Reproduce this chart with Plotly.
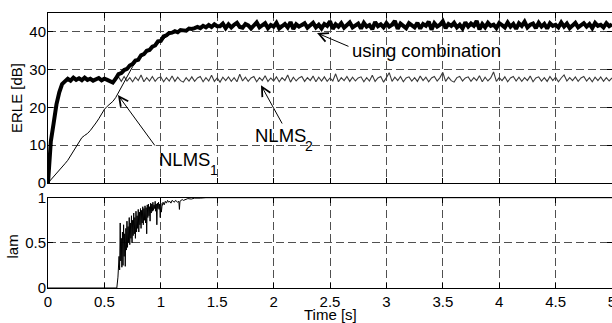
import plotly.graph_objects as go

# ---------------- data ----------------
DT = 0.025  # sampling step of the ERLE curves [s]

erle_comb = [
    0, 11, 15.8, 20.8, 24.0, 26.2, 26.9, 27.6, 27.1, 27.9,
    27.3, 27.7, 27.2, 27.9, 27.3, 27.6, 27.1, 27.5, 27.8, 27.2,
    27.6, 27.3, 27.0, 26.6, 27.6, 28.8, 29.1, 29.9, 30.2, 31.1,
    31.5, 32.4, 32.6, 33.8, 34.1, 35.0, 35.2, 36.1, 36.4, 37.5,
    37.6, 38.8, 39.1, 39.7, 39.8, 40.2, 39.9, 40.5, 40.4, 40.3,
    40.9, 40.8, 41.0, 41.3, 41.0, 41.6, 41.2, 41.8, 41.3, 42.0,
    41.5,
    41.5, 42.2, 41.0, 42.0, 41.2, 41.9, 42.4, 41.3, 41.1, 42.1,
    41.7, 40.9, 41.8, 42.5, 41.2, 41.6, 42.3, 41.0, 41.8, 41.4,
    42.4, 40.9, 41.6, 42.1, 41.2, 42.6, 40.8, 42.0, 41.4, 41.8,
    42.3, 41.1, 41.6, 42.4, 41.2, 41.9, 40.9, 42.1, 41.6, 42.8,
    40.8, 42.0, 41.4, 42.3, 41.1, 41.8, 42.5, 41.2, 41.6, 42.2,
    40.9, 42.4, 41.4, 41.8, 40.7, 42.6, 41.5, 42.0, 41.2, 42.3,
    41.4, 41.9, 42.9, 40.8, 42.2, 41.6, 41.0, 42.3, 41.8, 41.2,
    42.4, 40.9, 42.1, 41.6, 42.7, 40.6, 42.3, 41.4, 41.9, 42.8,
    41.0, 42.1, 41.6, 42.4, 41.2, 41.9, 40.9, 42.5, 41.4, 42.2,
    41.6, 42.9, 40.7, 42.1, 41.2, 42.4, 41.6, 41.9, 41.0, 42.3,
    41.8, 41.2, 42.5, 41.4, 42.1, 40.8, 42.3, 41.6, 42.7, 41.2,
    41.9, 42.2, 41.0, 42.4, 41.4, 42.1, 40.9, 42.3, 41.6, 41.9,
    41.2, 42.5, 41.4, 42.2, 41.0, 41.9, 42.4, 41.2, 41.7, 42.3,
    41.4, 42.1, 41.0, 42.4, 41.6, 41.9, 41.2, 42.3, 41.5, 42.0,
]

erle_nlms1 = [
    0, 0.8, 1.7, 2.5, 3.4, 4.2, 5.1, 6.0, 7.2, 8.3,
    9.5, 10.8, 12.0, 12.6, 13.1, 13.9, 14.8, 15.9, 17.0, 18.3,
    19.5, 20.3, 20.9, 21.6, 22.6, 24.0, 25.6, 27.0, 28.3, 29.5,
    30.8, 31.9, 32.5, 33.3, 34.0, 34.6, 35.2, 35.7, 36.3, 37.0,
    37.6, 38.3, 38.9, 39.3, 39.6, 39.8, 39.9, 40.2, 40.4, 40.4,
    40.7, 40.9, 41.0, 41.2, 41.1, 41.4, 41.3, 41.6, 41.4, 41.7,
    41.6,
    41.6, 41.7, 41.5, 41.8, 41.6, 41.7, 41.8, 41.5, 41.6, 41.8,
    41.7, 41.5, 41.6, 41.8, 41.6, 41.7, 41.5, 41.7, 41.8, 41.6,
    41.7, 41.6, 41.8, 41.5, 41.7, 41.6, 41.7, 41.8, 41.6, 41.5,
    41.7, 41.8, 41.6, 41.7, 41.5, 41.6, 41.8, 41.7, 41.6, 41.7,
    41.6, 41.7, 41.5, 41.8, 41.6, 41.7, 41.8, 41.6, 41.5, 41.7,
    41.7, 41.6, 41.8, 41.6, 41.5, 41.7, 41.6, 41.8, 41.7, 41.6,
    41.5, 41.7, 41.6, 41.8, 41.7, 41.6, 41.7, 41.5, 41.8, 41.6,
    41.7, 41.6, 41.7, 41.8, 41.5, 41.6, 41.7, 41.6, 41.8, 41.7,
    41.6, 41.8, 41.7, 41.5, 41.7, 41.6, 41.8, 41.6, 41.7, 41.6,
    41.7, 41.5, 41.6, 41.7, 41.8, 41.6, 41.7, 41.6, 41.5, 41.7,
    41.8, 41.6, 41.7, 41.6, 41.7, 41.5, 41.8, 41.7, 41.6, 41.7,
    41.6, 41.7, 41.8, 41.6, 41.5, 41.7, 41.6, 41.7, 41.8, 41.6,
    41.7, 41.6, 41.5, 41.7, 41.8, 41.6, 41.7, 41.6, 41.7, 41.8,
    41.6, 41.7, 41.5, 41.6, 41.7, 41.8, 41.6, 41.7, 41.6, 41.7,
]

erle_nlms2 = [
    0, 11, 15.8, 20.8, 24.0, 26.2, 26.9, 27.4, 27.2, 27.7,
    27.3, 27.6, 27.2, 27.8, 27.3, 27.5, 27.2, 27.4, 27.7, 27.3,
    27.5, 27.3, 27.1, 26.8, 27.4, 28.1, 26.9, 28.2, 27.0, 27.9,
    26.8, 28.0, 27.1, 28.6, 26.8, 27.9, 27.0, 28.2, 26.9, 27.8,
    28.1, 26.8, 27.9, 27.0, 28.3, 26.9, 28.0, 27.1, 26.7, 27.9,
    27.0, 28.1, 26.9, 27.8, 28.2, 26.8, 27.9, 27.0, 28.5, 26.9,
    27.8, 26.7, 28.0, 27.1, 28.1, 26.9, 27.9, 26.8, 28.8, 27.0,
    28.0, 26.9, 27.8, 28.2, 26.8, 27.9, 27.1, 28.4, 26.9, 27.8,
    27.0, 28.1, 26.8, 27.9, 27.1, 28.6, 26.7, 28.0, 27.0, 27.8,
    28.2, 26.9, 27.9, 27.1, 28.3, 26.8, 28.0, 27.0, 28.1, 26.9,
    27.8, 27.0, 28.9, 26.8, 27.9, 27.1, 28.2, 26.9, 28.0, 27.0,
    27.8, 28.1, 26.8, 27.9, 27.0, 28.5, 26.9, 27.8, 28.2, 26.7,
    27.9, 29.2, 26.9, 28.0, 27.1, 28.2, 26.8, 27.8, 28.1, 27.0,
    27.9, 26.9, 28.3, 27.1, 28.0, 26.8, 27.8, 28.2, 27.0, 27.9,
    29.3, 26.9, 28.0, 27.1, 26.7, 27.9, 28.2, 27.0, 27.8, 28.1,
    26.9, 27.9, 27.1, 28.4, 26.8, 28.0, 27.0, 27.8, 29.4, 26.9,
    27.9, 27.1, 28.1, 26.8, 27.8, 28.2, 27.0, 28.0, 26.9, 27.9,
    27.1, 28.3, 26.8, 27.8, 28.1, 27.0, 27.9, 26.9, 28.2, 27.1,
    28.0, 26.8, 27.8, 28.6, 27.0, 27.9, 27.1, 28.1, 26.9, 27.8,
    28.2, 27.0, 27.9, 26.8, 28.0, 27.1, 28.1, 26.9, 27.9, 27.0,
    27.8,
]

t_erle = [i * DT for i in range(len(erle_comb))]

lam_t = [
    0, 0.61, 0.62, 0.63, 0.635, 0.64, 0.645, 0.65, 0.655, 0.66,
    0.665, 0.67, 0.675, 0.68, 0.685, 0.69, 0.695, 0.70, 0.705, 0.71,
    0.715, 0.72, 0.725, 0.73, 0.735, 0.74, 0.745, 0.75, 0.755, 0.76,
    0.765, 0.77, 0.775, 0.78, 0.785, 0.79, 0.795, 0.80, 0.805, 0.81,
    0.815, 0.82, 0.825, 0.83, 0.835, 0.84, 0.845, 0.85, 0.855, 0.86,
    0.865, 0.87, 0.875, 0.88, 0.885, 0.89, 0.895, 0.90, 0.905, 0.91,
    0.915, 0.92, 0.925, 0.93, 0.935, 0.94, 0.945, 0.95, 0.955, 0.96,
    0.965, 0.97, 0.975, 0.98, 0.985, 0.99, 0.995, 1.0, 1.005, 1.01,
    1.02, 1.03, 1.04, 1.05, 1.06, 1.07, 1.08, 1.09, 1.10, 1.11,
    1.12, 1.13, 1.14, 1.15, 1.16, 1.165, 1.17, 1.18, 1.19, 1.2,
    1.22, 1.24, 1.27, 1.3, 1.35, 1.4, 5.0,
]
lam_v = [
    0, 0, 0.12, 0.35, 0.2, 0.72, 0.3, 0.55, 0.23, 0.62,
    0.25, 0.7, 0.35, 0.6, 0.24, 0.66, 0.42, 0.74, 0.45, 0.68,
    0.5, 0.78, 0.48, 0.72, 0.55, 0.8, 0.5, 0.75, 0.58, 0.83,
    0.6, 0.78, 0.55, 0.85, 0.62, 0.8, 0.66, 0.87, 0.62, 0.84,
    0.7, 0.88, 0.66, 0.86, 0.72, 0.9, 0.7, 0.88, 0.75, 0.91,
    0.72, 0.89, 0.6, 0.92, 0.78, 0.93, 0.8, 0.9, 0.74, 0.94,
    0.83, 0.93, 0.85, 0.95, 0.86, 0.92, 0.88, 0.96, 0.85, 0.93,
    0.7, 0.94, 0.88, 0.95, 0.87, 0.93, 0.78, 0.94, 0.84, 0.9,
    0.95, 0.92, 0.96, 0.94, 0.97, 0.95, 0.96, 0.94, 0.97, 0.96,
    0.95, 0.97, 0.96, 0.95, 0.96, 0.87, 0.96, 0.97, 0.98, 0.97,
    0.98, 0.99, 0.985, 0.995, 0.995, 1.0, 1.0,
]

x_ticks = [0, 0.5, 1, 1.5, 2, 2.5, 3, 3.5, 4, 4.5, 5]
erle_ticks = [0, 10, 20, 30, 40]
lam_ticks = [0, 0.5, 1]

# ---------------- figure ----------------
FONT = "Liberation Sans, Arial, Helvetica, sans-serif"
fig = go.Figure()

fig.add_trace(go.Scatter(x=t_erle, y=erle_nlms2, mode="lines", name="NLMS2",
                         line=dict(color="#3a3a3a", width=1.1), xaxis="x", yaxis="y"))
fig.add_trace(go.Scatter(x=t_erle, y=erle_nlms1, mode="lines", name="NLMS1",
                         line=dict(color="black", width=1), xaxis="x", yaxis="y"))
fig.add_trace(go.Scatter(x=t_erle, y=erle_comb, mode="lines", name="combination",
                         line=dict(color="black", width=4), xaxis="x", yaxis="y"))
fig.add_trace(go.Scatter(x=lam_t, y=lam_v, mode="lines", name="lam",
                         line=dict(color="black", width=1), xaxis="x2", yaxis="y2"))

axis_common = dict(
    showline=True, linecolor="black", linewidth=1,
    ticks="inside", ticklen=5, tickcolor="black", tickwidth=1,
    mirror="ticks", showgrid=True, gridcolor="#505050", gridwidth=1,
    griddash="8px,4px", zeroline=False, automargin=False,
    ticklabeloverflow="allow",
    tickfont=dict(family=FONT, size=15, color="black"),
)

fig.update_layout(
    width=612, height=323,
    margin=dict(l=48, r=0, t=13, b=35),
    paper_bgcolor="white", plot_bgcolor="white",
    showlegend=False,
    xaxis=dict(domain=[0, 1], anchor="y", range=[0, 5], tickvals=x_ticks,
               showticklabels=False, **axis_common),
    yaxis=dict(domain=[0.3818, 1], anchor="x", range=[0, 45], tickvals=erle_ticks,
               ticklabelstandoff=-2, **axis_common),
    xaxis2=dict(domain=[0, 1], anchor="y2", range=[0, 5], tickvals=x_ticks,
                **axis_common),
    yaxis2=dict(domain=[0, 0.3284], anchor="x2", range=[0, 1], tickvals=lam_ticks,
                ticklabelstandoff=-2, **axis_common),
)

txt = dict(family=FONT, size=15, color="black")
big = dict(family=FONT, size=18.5, color="black")
sub = dict(family=FONT, size=14, color="black")

annotations = [
    # axis titles
    dict(text="ERLE [dB]", xref="paper", yref="paper", x=-0.0567, y=0.6909,
         textangle=-90, showarrow=False, font=txt, xanchor="center", yanchor="middle"),
    dict(text="lam", xref="paper", yref="paper", x=-0.0629, y=0.149,
         textangle=-90, showarrow=False, font=txt, xanchor="center", yanchor="middle"),
    dict(text="Time [s]", xref="paper", yref="paper", x=0.5, y=-0.097,
         showarrow=False, font=txt, xanchor="center", yanchor="middle"),
    # curve labels
    dict(text="using combination", xref="x", yref="y", x=2.677, y=35.2,
         showarrow=False, font=big, xanchor="left", yanchor="middle"),
    dict(text="NLMS", xref="x", yref="y", x=1.817, y=12.6,
         showarrow=False, font=big, xanchor="left", yanchor="middle"),
    dict(text="2", xref="x", yref="y", x=2.314, y=9.8,
         showarrow=False, font=sub, xanchor="center", yanchor="middle"),
    dict(text="NLMS", xref="x", yref="y", x=0.966, y=6.3,
         showarrow=False, font=big, xanchor="left", yanchor="middle"),
    dict(text="1", xref="x", yref="y", x=1.472, y=3.4,
         showarrow=False, font=sub, xanchor="center", yanchor="middle"),
    # arrows
    dict(text="", xref="x", yref="y", x=2.385, y=39.7, axref="x", ayref="y",
         ax=2.677, ay=36.0, showarrow=True, arrowhead=5, arrowsize=1.8,
         arrowwidth=1, arrowcolor="black", standoff=0),
    dict(text="", xref="x", yref="y", x=1.888, y=25.9, axref="x", ayref="y",
         ax=2.083, ay=15.35, showarrow=True, arrowhead=5, arrowsize=1.8,
         arrowwidth=1, arrowcolor="black", standoff=0),
    dict(text="", xref="x", yref="y", x=0.62, y=23.3, axref="x", ayref="y",
         ax=0.957, ay=9.53, showarrow=True, arrowhead=5, arrowsize=1.8,
         arrowwidth=1, arrowcolor="black", standoff=0),
]
fig.update_layout(annotations=annotations)

fig.write_html(
    "out.html",
    config={"displayModeBar": False},
    post_script="document.body.style.margin='0';document.body.style.overflow='hidden';",
)
